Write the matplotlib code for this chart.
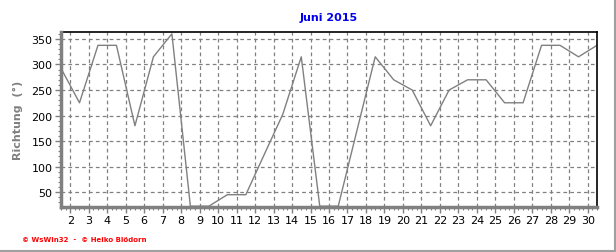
import numpy as np
import matplotlib.pyplot as plt
from matplotlib.ticker import MultipleLocator
from matplotlib.lines import Line2D

# Tagesmittel der Windrichtung, Juni 2015 (Punkte jeweils Tagesmitte)
tage = np.arange(1, 31) + 0.5
richtung = [292.5, 225, 337.5, 337.5, 180, 315, 360, 22.5, 22.5, 45,
            45, 124, 202.5, 315, 22.5, 22.5, 169, 315, 270, 250,
            180, 250, 270, 270, 225, 225, 337.5, 337.5, 315, 337.5]
tick_tage = list(range(2, 31))
y_ticks = [50, 100, 150, 200, 250, 300, 350]

grau = '#808080'

fig = plt.figure(figsize=(6.16, 2.53), dpi=100)
ax = fig.add_axes([61/616, 1-207.7/253, (597-61)/616, (207.7-33.3)/253])

ax.plot(tage, richtung, color=grau, lw=1.0, zorder=2)

ax.set_xlim(1.5, 30.5)
ax.set_ylim(21.5, 363)
ax.set_xticks(tick_tage)
ax.set_xticklabels([str(t) for t in tick_tage])
ax.set_yticks(y_ticks)
ax.xaxis.set_minor_locator(MultipleLocator(0.25))
ax.yaxis.set_minor_locator(MultipleLocator(10))

ax.grid(True, which='major', color=grau, linestyle=(0, (3, 2.5)), lw=0.9)
ax.tick_params(which='major', length=4, width=1, color=grau, labelsize=8, pad=2)
ax.tick_params(which='minor', length=2, width=0.8, color=grau)

for s in ['left', 'bottom']:
    ax.spines[s].set_color(grau)
    ax.spines[s].set_linewidth(2.5)
    ax.spines[s].set_zorder(3)
for s in ['top', 'right']:
    ax.spines[s].set_color('black')
    ax.spines[s].set_linewidth(1.2)

ax.set_title('Juni 2015', color='#0000ee', fontsize=8, fontweight='bold', pad=9)
ax.set_ylabel('Richtung  (°)', color=grau, fontsize=8, fontweight='bold', labelpad=6)

fig.text(22/616, 1-240/253, '© WsWin32  -  © Heiko Blödorn', color='red',
         fontsize=5, fontweight='bold', va='center', ha='left')

# Rahmen rechts und unten
fig.add_artist(Line2D([0, 1], [0.002, 0.002], color='#a0a0a0', lw=1.5, transform=fig.transFigure))
fig.add_artist(Line2D([0.998, 0.998], [0, 1], color='#a0a0a0', lw=1.5, transform=fig.transFigure))

fig.savefig('out.png', dpi=100)
